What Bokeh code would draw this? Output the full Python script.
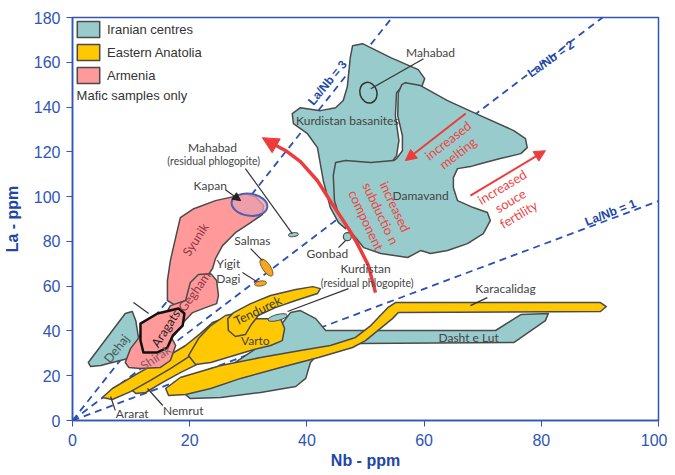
from bokeh.plotting import figure
from bokeh.models import (Range1d, Arrow, NormalHead, Legend, LegendItem,
                          ColumnDataSource, FixedTicker)
from bokeh.embed import file_html
from bokeh.resources import INLINE
from bokeh.core.properties import value

TEAL = "#98CBCB"
YELLOW = "#FFC800"
PINK = "#FF999A"
EDGE = "#4a4a4a"
BLUE = "#2F55B5"
RED = "#EE3B3B"
GRAY = "#444444"

# ---------------- data ----------------
x_ticks = [0, 20, 40, 60, 80, 100]
y_ticks = [0, 20, 40, 60, 80, 100, 120, 140, 160, 180]

ratio_labels = ["La/Nb = 1", "La/Nb = 2", "La/Nb = 3"]
ratio_slopes = [0.98, 1.99, 3.3]
ratio_label_nb = [91.8, 81.6, 43.5]
ratio_label_la = [92.9, 161.5, 150.9]
ratio_label_angle = [0.37, 0.62, 0.88]

# Iranian centres
kurd_nb = [47.8, 49.5, 54.3, 59.0, 60.1, 59.6, 56.5, 55.3, 55.1, 55.7, 55.3, 53.4, 49.1, 46.6,
           45.4, 44.0, 42.8, 41.8, 40.1, 37.7, 37.5, 38.9, 42.3, 44.9, 46.2, 46.9, 47.4]
kurd_la = [167.4, 168.3, 162.1, 156.7, 152.7, 149.1, 150.0, 146.4, 136.2, 125.0, 118.3, 111.6, 98.2, 85.7,
           88.4, 95.1, 107.1, 121.9, 128.1, 132.6, 137.1, 139.7, 138.4, 139.7, 142.9, 149.1, 162.1]
dam_nb = [56.2, 55.6, 55.5, 56.3, 56.3, 55.3, 54.8, 50.9, 46.6, 44.9, 44.5, 44.7, 45.4, 46.9, 49.7,
          52.6, 57.2, 59.4, 61.1, 64.0, 67.4, 70.1, 71.3, 70.8, 68.4, 65.7, 65.0, 65.0, 65.7, 67.9,
          69.6, 73.0, 76.5, 77.6, 77.3, 75.3, 69.6, 64.0, 59.4, 56.8]
dam_la = [150.0, 146.4, 136.2, 127.2, 120.5, 117.0, 116.1, 115.2, 116.1, 115.2, 109.4, 98.2, 92.4, 86.2, 77.2,
          74.6, 72.8, 75.9, 74.6, 75.9, 79.0, 83.5, 89.3, 92.9, 95.1, 98.2, 104.0, 108.5, 112.5, 113.4,
          114.7, 117.0, 119.2, 121.9, 125.9, 129.5, 136.2, 142.9, 149.6, 150.9]
lut_nb = [18.9, 20.1, 27.0, 32.1, 35.5, 37.2, 38.9, 41.5, 43.2, 49.2, 72.2, 76.5, 81.2, 80.7, 75.3,
          49.2, 42.7, 40.6, 39.8, 38.1, 32.1, 25.3, 20.1]
lut_la = [12.5, 17.9, 24.6, 33.5, 42.4, 48.2, 49.1, 45.5, 40.2, 40.2, 40.2, 47.3, 47.8, 44.6, 34.8,
          34.4, 32.1, 25.9, 18.8, 15.2, 12.5, 10.3, 9.8]
dehaj_nb = [2.7, 9.0, 10.2, 10.8, 11.6, 10.8, 4.8, 3.1]
dehaj_la = [25.9, 47.8, 48.7, 44.6, 31.3, 28.6, 24.6, 24.1]

# Eastern Anatolia
kara_nb = [15.9, 18.4, 25.3, 32.1, 38.9, 44.0, 48.3, 50.9, 53.8, 55.1, 90.1, 91.1, 90.1, 55.6, 54.6,
           50.0, 47.8, 42.0, 35.5, 28.7, 23.6, 19.3, 16.4]
kara_la = [14.3, 19.2, 24.6, 28.1, 31.3, 33.5, 37.1, 42.4, 50.4, 52.7, 52.7, 50.9, 48.7, 48.2, 45.5,
           35.7, 32.6, 28.1, 23.7, 18.8, 14.3, 11.6, 11.2]
nemrut_nb = [10.2, 11.6, 15.0, 20.1, 24.4, 28.7, 31.2, 31.2, 27.8, 23.6, 18.4, 15.0, 12.5, 10.8]
nemrut_la = [13.4, 17.9, 23.2, 30.4, 35.7, 40.2, 41.1, 37.5, 33.5, 28.1, 21.4, 16.5, 12.5, 12.1]
ararat_nb = [5.1, 6.8, 10.8, 15.0, 19.3, 21.8, 23.9, 25.6, 26.3, 24.4, 21.0, 16.7, 13.3, 9.9, 6.8]
ararat_la = [10.3, 14.3, 20.5, 26.8, 33.5, 38.8, 43.8, 45.5, 42.0, 37.1, 30.4, 23.2, 17.9, 12.9, 9.4]
varto_nb = [19.8, 21.5, 23.6, 26.1, 28.7, 30.7, 32.9, 35.5, 36.2, 35.8, 33.8, 30.4, 27.0, 23.6, 21.0]
varto_la = [29.0, 36.6, 42.4, 46.9, 48.2, 45.5, 45.5, 45.5, 41.1, 35.7, 33.5, 31.3, 28.6, 25.9, 25.0]
tend_nb = [26.5, 27.5, 30.4, 33.8, 38.1, 41.0, 42.3, 41.8, 38.1, 34.6, 31.7, 30.4, 29.5, 27.8, 26.6]
tend_la = [45.5, 48.2, 52.2, 55.8, 58.5, 59.8, 58.9, 56.7, 53.6, 50.4, 46.9, 42.4, 38.4, 37.5, 40.2]

# Armenia
syunik_nb = [16.2, 16.2, 16.7, 17.6, 18.4, 20.7, 24.4, 27.5, 29.5, 31.2, 32.6, 32.4, 30.4, 27.8, 25.6,
             24.4, 23.9, 22.7, 21.0, 19.3, 17.6]
syunik_la = [53.6, 62.5, 71.4, 81.7, 90.6, 94.6, 98.2, 100.0, 101.3, 100.0, 96.0, 92.0, 88.4, 83.9, 78.1,
             72.3, 67.9, 63.4, 58.0, 53.6, 51.3]
gegham_nb = [19.3, 20.1, 21.5, 23.6, 24.6, 24.9, 24.6, 22.7, 20.5, 18.9, 17.6, 16.4, 15.0, 15.5, 16.7]
gegham_la = [53.6, 61.6, 65.2, 65.6, 62.5, 55.8, 52.2, 50.4, 48.2, 43.8, 38.8, 35.7, 37.9, 45.5, 51.3]
shirak_nb = [9.0, 9.9, 11.6, 14.2, 16.7, 17.6, 16.7, 15.0, 11.6, 9.6]
shirak_la = [25.9, 32.1, 37.9, 40.2, 37.9, 33.5, 26.8, 23.7, 23.2, 23.7]
aragats_nb = [11.6, 14.5, 18.1, 19.1, 18.8, 17.1, 16.2, 14.5, 12.1, 11.6]
aragats_la = [43.3, 47.8, 50.0, 47.8, 42.4, 37.9, 32.6, 30.4, 30.4, 35.7]

# small centres (ellipses / points)
mahabad_nb, mahabad_la = [50.5], [146.4]
kurres_nb, kurres_la = [35.0], [46.0]
mahres_nb, mahres_la = [37.7], [83.0]
kapan_nb, kapan_la = [30.2], [96.4]
salmas_nb, salmas_la = [33.1], [68.3]
yigit_nb, yigit_la = [32.1], [61.2]
gonbad_nb, gonbad_la = [46.9], [82.1]

# red trend arrows
subd_nb = [51.7, 50.5, 48.6, 47.1, 44.5, 41.8, 38.9, 36.4, 34.1]
subd_la = [57.1, 69.2, 79.0, 85.7, 96.0, 107.1, 115.6, 120.5, 123.7]
subd_tip = (32.4, 126.3)
melt_start, melt_end = (67.1, 137.1), (56.8, 116.1)
fert_start, fert_end = (67.9, 100.4), (80.7, 120.5)

# labels
plain_text = ["Mahabad", "Kurdistan basanites", "Damavand", "Dasht e Lut", "Karacalidag", "Varto",
              "Gonbad", "Kurdistan", "Kapan", "Salmas", "Yigit", "Dagi", "Mahabad", "Ararat", "Nemrut"]
plain_nb = [61.1, 46.9, 59.4, 67.6, 73.9, 31.2, 43.5, 50.0, 23.5, 30.7, 26.6, 26.6, 23.9, 10.2, 18.9]
plain_la = [164.3, 133.9, 100.4, 37.1, 58.9, 35.7, 74.6, 67.9, 104.9, 80.4, 70.1, 63.4, 121.9, 3.1, 4.5]
small_text = ["(residual phlogopite)", "(residual phlogopite)"]
small_nb = [24.1, 50.3]
small_la = [116.1, 61.6]
rot_text = ["Tendurek", "Dehaj", "Syunik", "Gegham", "Shirak", "Aragats"]
rot_nb = [31.6, 7.5, 21.0, 20.8, 14.2, 15.9]
rot_la = [49.1, 32.1, 80.8, 57.6, 28.1, 41.1]
rot_angle = [0.45, 0.9, 1.0, 0.95, 0.6, 1.0]
rot_color = ["#3a3a2a", "#445555", "#8B3A4A", "#8B3A4A", "#8a5a66", "#222222"]
red_text = ["increased\nmelting", "increased\nsouce\nfertility", "increased\nsubductio n\ncomponent"]
red_nb = [64.9, 74.7, 52.6]
red_la = [122.3, 98.2, 92.5]
red_angle = [0.66, 0.54, -1.13]

leader_x0 = [50.9, 67.9, 36.7, 46.6, 29.5, 30.4, 29.0, 6.5, 12.8, 10.4]
leader_y0 = [148.2, 51.3, 48.7, 80.4, 112.5, 76.8, 66.1, 10.7, 14.3, 52.7]
leader_x1 = [59.9, 70.8, 47.1, 45.4, 37.5, 32.4, 31.4, 7.3, 15.4, 13.0]
leader_y1 = [161.6, 54.9, 58.9, 77.2, 83.5, 71.4, 62.1, 4.5, 6.7, 47.8]
kapan_arrow = ((26.1, 103.1), (28.7, 98.2))

legend_names = ["Iranian centres", "Eastern Anatolia", "Armenia"]

# ---------------- figure ----------------
p = figure(width=667, height=474, output_backend="svg", toolbar_location=None,
           x_range=Range1d(0, 100), y_range=Range1d(0, 180),
           min_border_left=72, min_border_right=9, min_border_top=17, min_border_bottom=54)
p.grid.visible = False
p.outline_line_color = BLUE
p.outline_line_width = 1.5
p.background_fill_color = "white"

for ax in (p.xaxis[0], p.yaxis[0]):
    ax.axis_line_color = BLUE
    ax.axis_line_width = 1.5
    ax.major_tick_line_color = BLUE
    ax.major_tick_out = 6
    ax.major_tick_in = 0
    ax.minor_tick_line_color = None
    ax.major_label_text_font = "Liberation Sans"
    ax.major_label_text_font_size = "16px"
    ax.major_label_text_color = BLUE
    ax.axis_label_text_font = "Liberation Sans"
    ax.axis_label_text_font_size = "16px"
    ax.axis_label_text_font_style = "bold"
    ax.axis_label_text_color = "#2046A8"
p.xaxis.ticker = FixedTicker(ticks=x_ticks)
p.yaxis.ticker = FixedTicker(ticks=y_ticks)
p.xaxis.axis_label = "Nb - ppm"
p.yaxis.axis_label = "La - ppm"
p.xaxis.major_label_standoff = 7
p.xaxis.axis_label_standoff = 3
p.yaxis.major_label_standoff = 6
p.yaxis.axis_label_standoff = 10

# reference lines
for s in ratio_slopes:
    xe = min(100.0, 180.0 / s)
    p.line([0, xe], [0, s * xe], line_color="#2A50B8", line_width=1.8, line_dash="7 5")

def poly(xs, ys, color, lw=1.5, lc=EDGE):
    return p.patch(xs, ys, fill_color=color, line_color=lc, line_width=lw, line_join="round")

r_teal = poly(lut_nb, lut_la, TEAL)
poly(kurd_nb, kurd_la, TEAL)
poly(dam_nb, dam_la, TEAL)
r_yel = poly(kara_nb, kara_la, YELLOW)
poly(nemrut_nb, nemrut_la, YELLOW)
poly(ararat_nb, ararat_la, YELLOW)
poly(varto_nb, varto_la, YELLOW)
poly(tend_nb, tend_la, YELLOW)
poly(dehaj_nb, dehaj_la, TEAL)
r_pink = poly(syunik_nb, syunik_la, PINK)
poly(gegham_nb, gegham_la, PINK)
poly(shirak_nb, shirak_la, PINK)
poly(aragats_nb, aragats_la, PINK, lw=2.5, lc="#111111")

# small centres
p.ellipse(mahabad_nb, mahabad_la, width=17, height=21, width_units="screen", height_units="screen",
          angle=0.3, fill_color=TEAL, line_color="#333333", line_width=1.5)
p.ellipse(kurres_nb, kurres_la, width=20, height=6, width_units="screen", height_units="screen",
          angle=0.25, fill_color=TEAL, line_color=EDGE, line_width=1)
p.ellipse(mahres_nb, mahres_la, width=10, height=4, width_units="screen", height_units="screen",
          angle=0.1, fill_color=TEAL, line_color=EDGE, line_width=1)
p.ellipse(salmas_nb, salmas_la, width=8, height=20, width_units="screen", height_units="screen",
          angle=0.6, fill_color="#F5A623", line_color="#7a5a20", line_width=1)
p.ellipse(yigit_nb, yigit_la, width=12, height=5, width_units="screen", height_units="screen",
          angle=0.15, fill_color="#F5A623", line_color="#7a5a20", line_width=1)
p.ellipse(kapan_nb, kapan_la, width=36, height=22, width_units="screen", height_units="screen",
          angle=-0.15, fill_color="#E8A0B0", fill_alpha=0.75, line_color="#5060B0", line_width=2)
p.scatter(gonbad_nb, gonbad_la, size=8, marker="circle", fill_color=TEAL, line_color=EDGE, line_width=1.2)

# leaders
p.segment(leader_x0, leader_y0, leader_x1, leader_y1, line_color="#333333", line_width=1.2)
p.add_layout(Arrow(end=NormalHead(size=8, fill_color="#222222", line_color="#222222"),
                   x_start=kapan_arrow[0][0], y_start=kapan_arrow[0][1],
                   x_end=kapan_arrow[1][0], y_end=kapan_arrow[1][1],
                   line_color="#333333", line_width=1.2))

# red arrows
p.line(subd_nb, subd_la, line_color=RED, line_width=3.5)
p.add_layout(Arrow(end=NormalHead(size=16, fill_color=RED, line_color=RED),
                   x_start=subd_nb[-1], y_start=subd_la[-1], x_end=subd_tip[0], y_end=subd_tip[1],
                   line_color=RED, line_width=3.5))
for (s, e) in [(melt_start, melt_end), (fert_start, fert_end)]:
    p.add_layout(Arrow(end=NormalHead(size=11, fill_color=RED, line_color=RED),
                       x_start=s[0], y_start=s[1], x_end=e[0], y_end=e[1],
                       line_color=RED, line_width=2))

# texts
font = value("Lato")
p.text(plain_nb, plain_la, text=plain_text, text_font=font, text_font_size="12px",
       text_color=GRAY, text_align="center", text_baseline="middle")
p.text(small_nb, small_la, text=small_text, text_font=font, text_font_size="10.5px",
       text_color=GRAY, text_align="center", text_baseline="middle")
p.text(x="x", y="y", text="t", angle="a", text_color="c",
       source=ColumnDataSource(dict(x=rot_nb, y=rot_la, t=rot_text, a=rot_angle, c=rot_color)),
       text_font=font, text_font_size="12.5px", text_align="center", text_baseline="middle")
p.text(x="x", y="y", text="t", angle="a",
       source=ColumnDataSource(dict(x=red_nb, y=red_la, t=red_text, a=red_angle)),
       text_font=font, text_font_size="13px", text_color="#EE4444", text_align="center",
       text_baseline="middle", text_line_height=1.0)
p.text(x="x", y="y", text="t", angle="a",
       source=ColumnDataSource(dict(x=ratio_label_nb, y=ratio_label_la, t=ratio_labels, a=ratio_label_angle)),
       text_font=value("Liberation Sans"), text_font_size="12px", text_font_style="bold",
       text_color="#2248A8", text_align="center", text_baseline="middle")
p.text([0.7], [145.1], text=["Mafic samples only"], text_font=value("Liberation Sans"),
       text_font_size="13px", text_color="#333333", text_align="left", text_baseline="middle")

legend = Legend(items=[LegendItem(label=legend_names[0], renderers=[r_teal]),
                       LegendItem(label=legend_names[1], renderers=[r_yel]),
                       LegendItem(label=legend_names[2], renderers=[r_pink])],
                location="top_left", margin=0, padding=2, spacing=3,
                glyph_width=28, glyph_height=20, label_standoff=5,
                label_text_font="Liberation Sans", label_text_font_size="13px",
                label_text_color="#333333", border_line_alpha=0, background_fill_alpha=0)
p.add_layout(legend)

open("out.html", "w").write(file_html(p, INLINE))
